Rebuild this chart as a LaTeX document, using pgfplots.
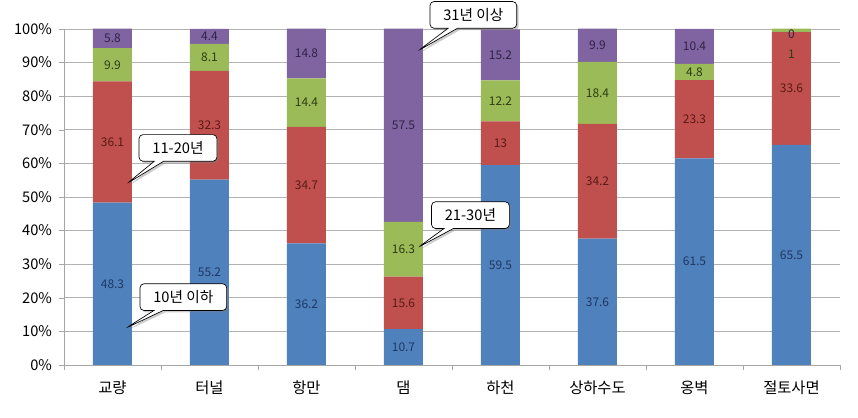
\documentclass[border=0pt]{standalone}
\usepackage{fontspec}
\setmainfont{Noto Sans CJK KR}
\usepackage{pgfplots}
\usepackage{pgfplotstable}
\pgfplotsset{compat=1.18}
\usetikzlibrary{shapes.callouts,shadows}

\definecolor{cblue}{HTML}{4F81BD}
\definecolor{cred}{HTML}{C0504D}
\definecolor{cgreen}{HTML}{9BBB59}
\definecolor{cpurple}{HTML}{8064A2}
\definecolor{tblue}{HTML}{1F3864}
\definecolor{tred}{HTML}{5A1A18}
\definecolor{tgreen}{HTML}{2E3D10}
\definecolor{tpurple}{HTML}{2F2346}

% columns: a=10년 이하, b=11-20년, c=21-30년, d=31년 이상; oc, od = label offsets
\pgfplotstableread{
x a    b    c    d    oc   od
0 48.3 36.1 9.9  5.8  0    0
1 55.2 32.3 8.1  4.4  0    0
2 36.2 34.7 14.4 14.8 0    0
3 10.7 15.6 16.3 57.5 0    0
4 59.5 13   12.2 15.2 0    0
5 37.6 34.2 18.4 9.9  0    0
6 61.5 23.3 4.8  10.4 0    0
7 65.5 33.6 1    0    -7.2 -1.6
}\agedata

\tikzset{
  balloon/.style={rectangle callout, rounded corners=3pt, draw=black, line width=0.5pt,
    fill=white, font=\fontsize{11}{13}\selectfont, inner xsep=10pt, inner ysep=3pt,
    minimum height=20pt, callout pointer width=7pt,
    drop shadow={shadow xshift=1.5pt, shadow yshift=-1.5pt, fill=black!50, opacity=0.4}},
}
\pgfplotsset{
  frame/.style={scale only axis, width=582pt, height=252pt,
    xmin=-0.5, xmax=7.5, ymin=0, ymax=100},
  seglabel/.style={draw=none, mark=none, nodes near coords={\pgfmathprintnumber{\pgfplotspointmeta}},
    /pgf/number format/assume math mode=true,
    every node near coord/.style={anchor=center, text=#1, font=\fontsize{9}{10}\selectfont}},
}

\begin{document}
\begin{tikzpicture}
\useasboundingbox (-48pt,-39.75pt) rectangle (595.5pt,273.75pt);
\begin{axis}[
    frame,
    ybar stacked, bar width=29.25pt, bar shift=0pt,
    xtick={0,...,7},
    xticklabels={교량,터널,항만,댐,하천,상하수도,옹벽,절토사면},
    minor xtick={-0.5,0.5,...,7.5},
    ytick={0,10,...,100},
    yticklabel={\pgfmathprintnumber{\tick}\%},
    /pgf/number format/assume math mode=true,
    axis x line*=bottom, axis y line*=left,
    axis line style={draw=black!35},
    ymajorgrids, grid style={draw=black!30, line width=0.6pt},
    tick align=outside,
    major x tick style={draw=none},
    minor x tick style={draw=black!35},
    minor tick length=4pt,
    major y tick style={draw=black!35},
    major tick length=3.5pt,
    yticklabel style={font=\fontsize{11}{13}\selectfont, xshift=-2pt},
    xticklabel style={font=\fontsize{11.5}{13}\selectfont, yshift=-5pt},
    clip=false,
]
\addplot[fill=cblue, draw=none] table[x=x, y=a] {\agedata};
\addplot[fill=cred, draw=none] table[x=x, y=b] {\agedata};
\addplot[fill=cgreen, draw=none] table[x=x, y=c] {\agedata};
\addplot[fill=cpurple, draw=none] table[x=x, y=d] {\agedata};

\coordinate (p1) at (axis cs:0.15,54);   \coordinate (b1) at (axis cs:0.675,64.6);
\coordinate (p2) at (axis cs:3.15,93.5); \coordinate (b2) at (axis cs:3.72,104.2);
\coordinate (p3) at (axis cs:3.15,35);   \coordinate (b3) at (axis cs:3.69,44.6);
\coordinate (p4) at (axis cs:0.14,11);   \coordinate (b4) at (axis cs:0.73,20.2);
\end{axis}
% value labels, centred in each segment
\begin{axis}[frame, hide axis, clip=false]
\addplot[seglabel=tblue, point meta=\thisrow{a}]
  table[x=x, y expr=\thisrow{a}/2] {\agedata};
\addplot[seglabel=tred, point meta=\thisrow{b}]
  table[x=x, y expr=\thisrow{a}+\thisrow{b}/2] {\agedata};
\addplot[seglabel=tgreen, point meta=\thisrow{c}]
  table[x=x, y expr=\thisrow{a}+\thisrow{b}+\thisrow{c}/2+\thisrow{oc}] {\agedata};
\addplot[seglabel=tpurple, point meta=\thisrow{d}]
  table[x=x, y expr=\thisrow{a}+\thisrow{b}+\thisrow{c}+\thisrow{d}/2+\thisrow{od}] {\agedata};
\end{axis}
\node[balloon, callout absolute pointer={(p1)}] at (b1) {11-20년};
\node[balloon, callout absolute pointer={(p2)}] at (b2) {31년 이상};
\node[balloon, callout absolute pointer={(p3)}] at (b3) {21-30년};
\node[balloon, callout absolute pointer={(p4)}] at (b4) {10년 이하};
\end{tikzpicture}
\end{document}
